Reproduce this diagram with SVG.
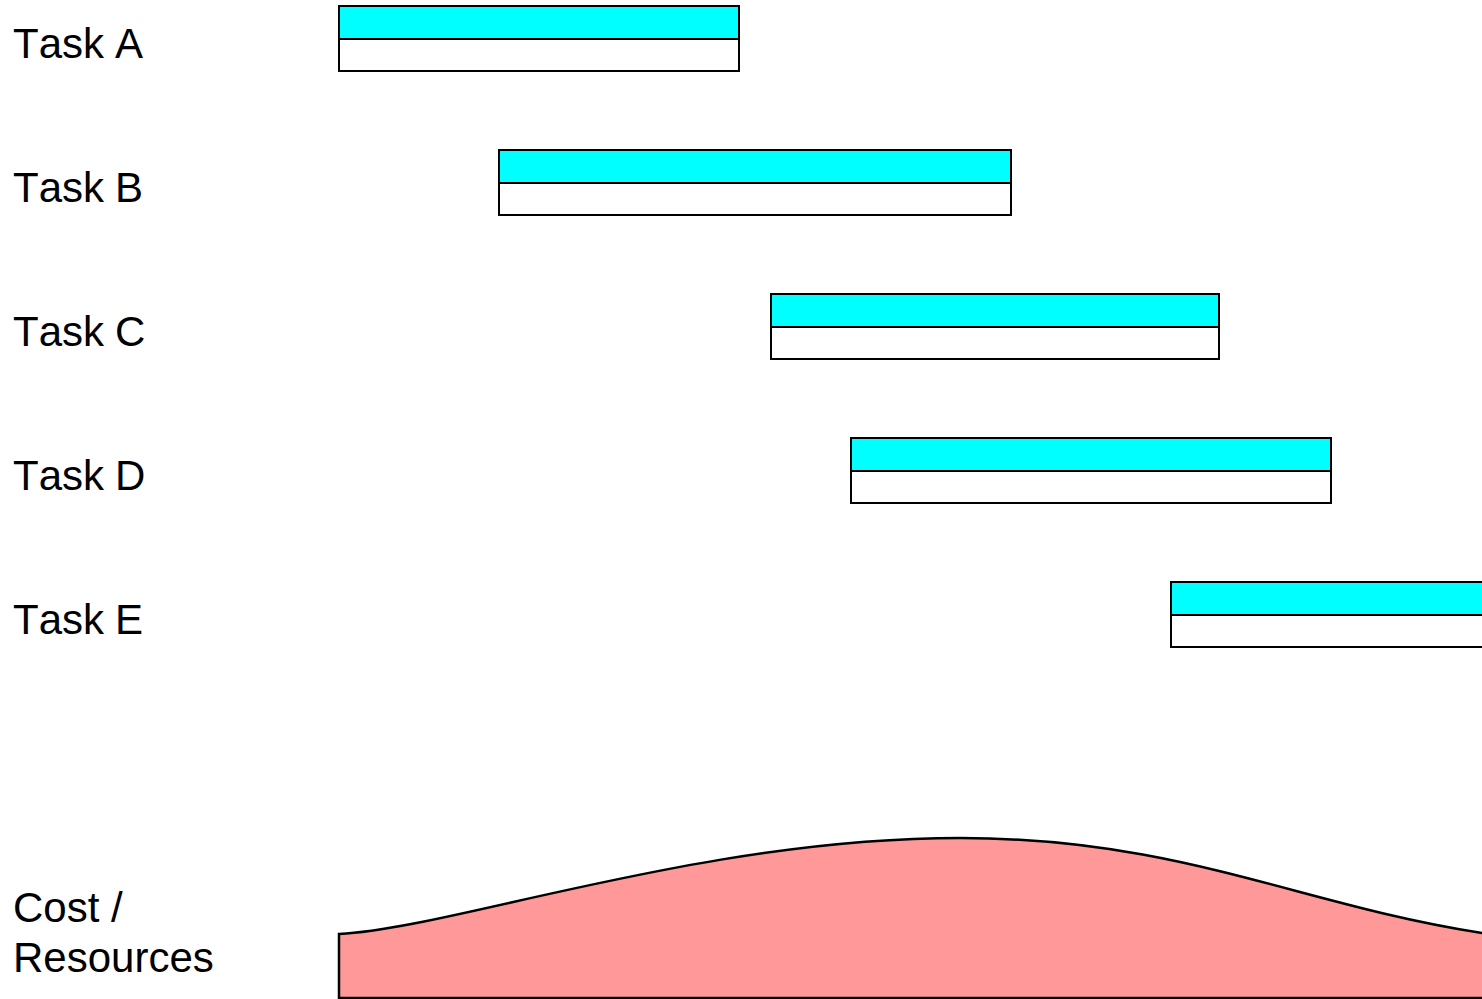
<svg xmlns="http://www.w3.org/2000/svg" width="1482" height="999" viewBox="0 0 1482 999">
<style>
.lbl{font-family:"Liberation Sans",Arial,sans-serif;font-size:42px;fill:#000;font-kerning:none}
.top{fill:#00FFFF;stroke:#000;stroke-width:2}
.bot{fill:#FFFFFF;stroke:#000;stroke-width:2}
.cost{fill:#FF9999;stroke:#000;stroke-width:2.5}
</style>
<rect width="1482" height="999" fill="#fff"/>
<g id="taskA">
<text class="lbl" x="13" y="58">Task <tspan x="115">A</tspan></text>
<rect class="bot" x="339" y="39" width="400" height="32"/>
<rect class="top" x="339" y="6" width="400" height="33"/>
</g>
<g id="taskB">
<text class="lbl" x="13" y="202">Task <tspan x="115">B</tspan></text>
<rect class="bot" x="499" y="183" width="512" height="32"/>
<rect class="top" x="499" y="150" width="512" height="33"/>
</g>
<g id="taskC">
<text class="lbl" x="13" y="346">Task <tspan x="115">C</tspan></text>
<rect class="bot" x="771" y="327" width="448" height="32"/>
<rect class="top" x="771" y="294" width="448" height="33"/>
</g>
<g id="taskD">
<text class="lbl" x="13" y="490">Task <tspan x="115">D</tspan></text>
<rect class="bot" x="851" y="471" width="480" height="32"/>
<rect class="top" x="851" y="438" width="480" height="33"/>
</g>
<g id="taskE">
<text class="lbl" x="13" y="634">Task <tspan x="115">E</tspan></text>
<rect class="bot" x="1171" y="615" width="330" height="32"/>
<rect class="top" x="1171" y="582" width="330" height="33"/>
</g>
<g id="cost">
<text class="lbl" x="13" y="922">Cost /</text>
<text class="lbl" x="13" y="972">Resources</text>
<path class="cost" d="M339,998 L339,934 C450,929 700,838 960,838 C1180,838 1300,905 1482,933 L1500,935 L1500,998 Z"/>
</g>
<g id="connectors"/>
</svg>
